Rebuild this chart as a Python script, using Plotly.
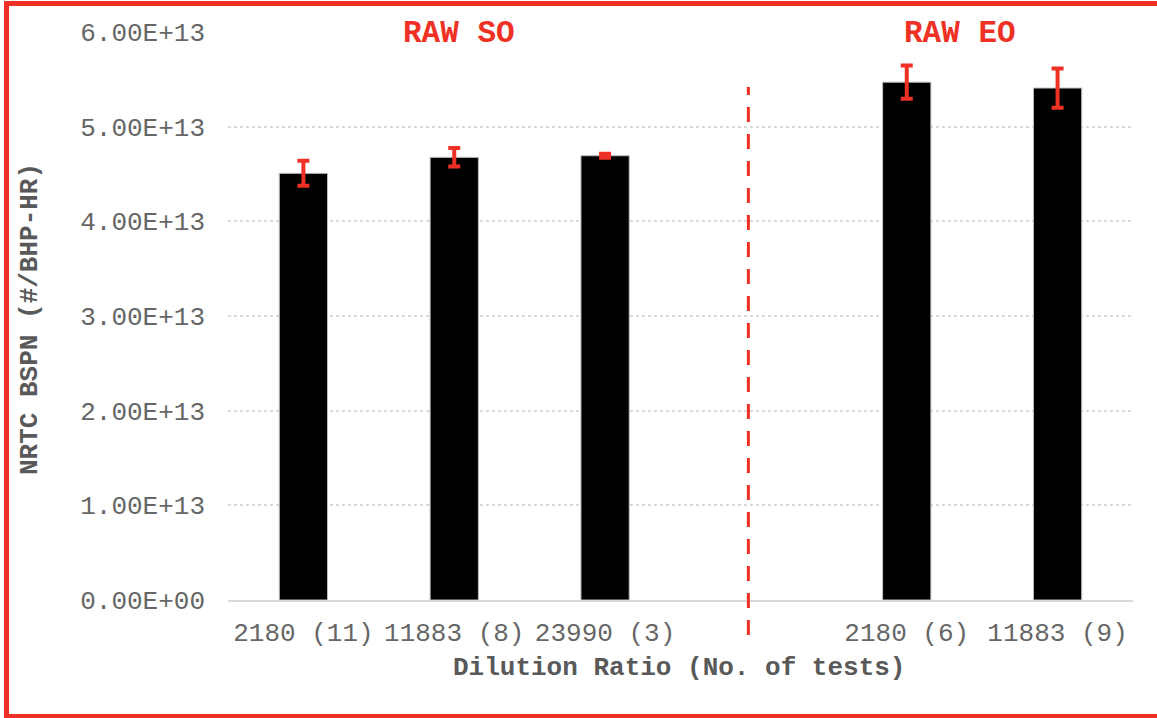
import plotly.graph_objects as go

categories = ["2180 (11)", "11883 (8)", "23990 (3)", " ", "2180 (6)", "11883 (9)"]
bar_categories = ["2180 (11)", "11883 (8)", "23990 (3)", "2180 (6)", "11883 (9)"]
bspn = [4.507e13, 4.676e13, 4.693e13, 5.47e13, 5.408e13]
bspn_err = [0.132e13, 0.098e13, 0.022e13, 0.175e13, 0.207e13]
y_ticks = [0, 1e13, 2e13, 3e13, 4e13, 5e13, 6e13]
y_tick_text = ["0.00E+00", "1.00E+13", "2.00E+13", "3.00E+13", "4.00E+13", "5.00E+13", "6.00E+13"]

RED = "#EE3124"
GRAY = "#666666"
TGRAY = "#595959"
FONT = "Liberation Mono, Courier New, monospace"

fig = go.Figure()
fig.add_trace(go.Bar(
    x=bar_categories, y=bspn, width=0.32,
    marker=dict(color="black", line=dict(color="#BFBFBF", width=1)),
    error_y=dict(type="data", array=bspn_err, visible=True, color=RED, thickness=4, width=6),
    showlegend=False,
))

L, R, T, B = 228, 24, 32, 118
W, H = 1157, 718
pw, ph = W - L - R, H - T - B

def px(x):
    return (x - L) / pw

def py(y):
    return (H - B - y) / ph

fig.update_layout(
    width=W, height=H,
    margin=dict(l=L, r=R, t=T, b=B, autoexpand=False),
    plot_bgcolor="white", paper_bgcolor="white",
    font=dict(family=FONT, color=GRAY, size=26),
    xaxis=dict(
        type="category", categoryorder="array", categoryarray=categories,
        range=[-0.5, 5.5], showgrid=False, showline=True, linecolor="#D9D9D9", linewidth=1.5,
        ticks="", ticklabelstandoff=8, tickfont=dict(size=26, color=GRAY, family=FONT),
    ),
    yaxis=dict(
        range=[0, 6e13], tickvals=y_ticks, ticktext=y_tick_text,
        showgrid=True, gridcolor="#D9D9D9", gridwidth=1.5, griddash="dot",
        showline=False, zeroline=False, ticks="", ticklabelstandoff=22,
        tickfont=dict(size=26, color=GRAY, family=FONT),
    ),
    shapes=[
        dict(type="line", xref="x", yref="paper", x0=2.95, x1=2.95, y0=py(635), y1=py(87),
             line=dict(color=RED, width=3, dash="15px,12px")),
        dict(type="rect", xref="paper", yref="paper", x0=px(6.5), x1=px(1200), y0=py(716.5), y1=py(3.5),
             line=dict(color=RED, width=5), fillcolor="rgba(0,0,0,0)", layer="above"),
    ],
    annotations=[
        dict(text="<b>RAW SO</b>", xref="paper", yref="paper", x=px(458.5), y=py(33),
             showarrow=False, font=dict(size=31, color=RED, family=FONT), xanchor="center", yanchor="middle"),
        dict(text="<b>RAW EO</b>", xref="paper", yref="paper", x=px(960), y=py(33),
             showarrow=False, font=dict(size=31, color=RED, family=FONT), xanchor="center", yanchor="middle"),
        dict(text="<b>Dilution Ratio (No. of tests)</b>", xref="paper", yref="paper", x=px(678.5), y=py(668),
             showarrow=False, font=dict(size=26, color=TGRAY, family=FONT), xanchor="center", yanchor="middle"),
        dict(text="<b>NRTC BSPN (#/BHP-HR)</b>", xref="paper", yref="paper", x=px(30), y=py(319),
             showarrow=False, textangle=-90, font=dict(size=26, color=TGRAY, family=FONT),
             xanchor="center", yanchor="middle"),
    ],
)

fig.write_html("out.html", config={"displayModeBar": False},
               post_script="document.body.style.margin='0';document.body.style.overflow='hidden';")
